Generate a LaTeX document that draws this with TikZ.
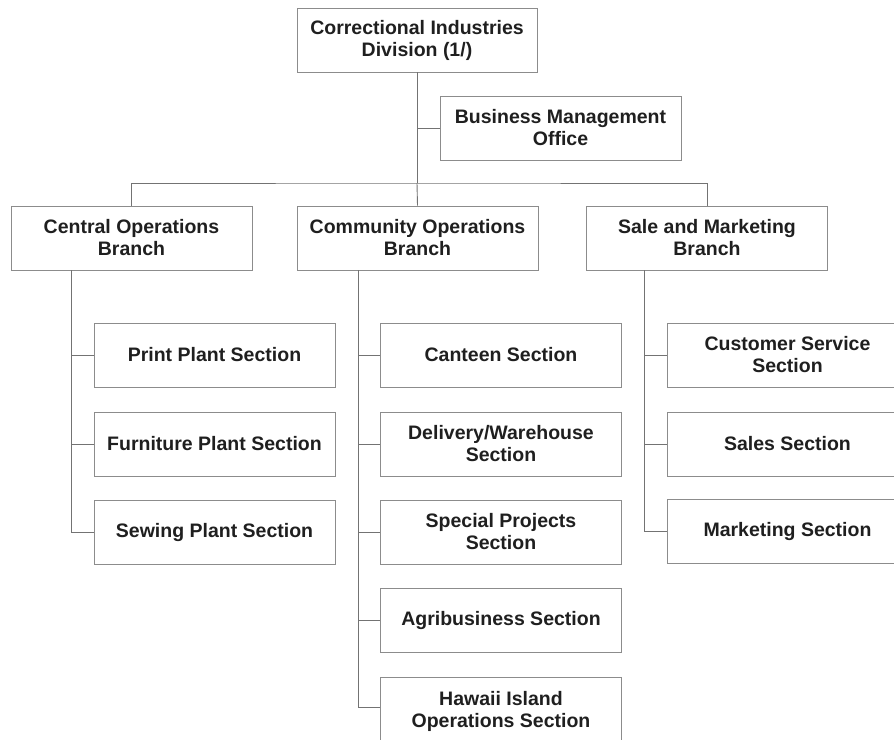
\documentclass[tikz,border=0pt]{standalone}
\usepackage{fontspec}
\setmainfont{Liberation Sans}
\begin{document}
\begin{tikzpicture}[x=1pt,y=-1pt,
  box/.style={draw=black!45,line width=0.9pt,fill=white,inner sep=0pt,
    minimum width=241pt,minimum height=64pt,align=center,
    font=\fontsize{19.5}{22}\selectfont\bfseries,text=black!88},
  conn/.style={draw=black!55,line width=0.9pt}]
\useasboundingbox (0,0) rectangle (894,739);
\clip (0,0) rectangle (894,739);
\node[box,minimum width=240pt] (top) at (417,40) {Correctional Industries\\Division (1/)};
\node[box] (bmo) at (560.5,128) {Business Management\\Office};
\node[box] (central) at (131.5,238) {Central Operations\\Branch};
\node[box] (community) at (417.5,238) {Community Operations\\Branch};
\node[box] (sale) at (707,238) {Sale and Marketing\\Branch};
\node[box] (print) at (214.5,355) {Print Plant Section};
\node[box] (furn) at (214.5,444) {Furniture Plant Section};
\node[box] (sew) at (214.5,532) {Sewing Plant Section};
\node[box] (canteen) at (501,355) {Canteen Section};
\node[box] (deliv) at (501,444) {Delivery/Warehouse\\Section};
\node[box] (spec) at (501,532) {Special Projects\\Section};
\node[box] (agri) at (501,620) {Agribusiness Section};
\node[box,minimum height=68pt] (hawaii) at (501,711) {Hawaii Island\\Operations Section};
\node[box] (cust) at (787.5,355) {Customer Service\\Section};
\node[box] (sales) at (787.5,444) {Sales Section};
\node[box] (mkt) at (787.5,531) {Marketing Section};
\coordinate (bus) at (417,183);
\coordinate (cv) at (71,0);
\coordinate (mv) at (358,0);
\coordinate (sv) at (644,0);
\coordinate (hv) at (0,707);
\draw[conn] (top.south) -- (bus);
\draw[conn] (top.south |- bmo.west) -- (bmo.west);
\draw[conn] (central.north) |- (bus) -| (sale.north);
\draw[conn] (bus) -- (community.north);
\draw[conn] (central.south -| cv) |- (sew.west);
\draw[conn] (cv |- print.west) -- (print.west);
\draw[conn] (cv |- furn.west) -- (furn.west);
\draw[conn] (community.south -| mv) -- (mv |- hv) -- (hawaii.west |- hv);
\draw[conn] (mv |- canteen.west) -- (canteen.west);
\draw[conn] (mv |- deliv.west) -- (deliv.west);
\draw[conn] (mv |- spec.west) -- (spec.west);
\draw[conn] (mv |- agri.west) -- (agri.west);
\draw[conn] (sale.south -| sv) |- (mkt.west);
\draw[conn] (sv |- cust.west) -- (cust.west);
\draw[conn] (sv |- sales.west) -- (sales.west);
\end{tikzpicture}
\end{document}
